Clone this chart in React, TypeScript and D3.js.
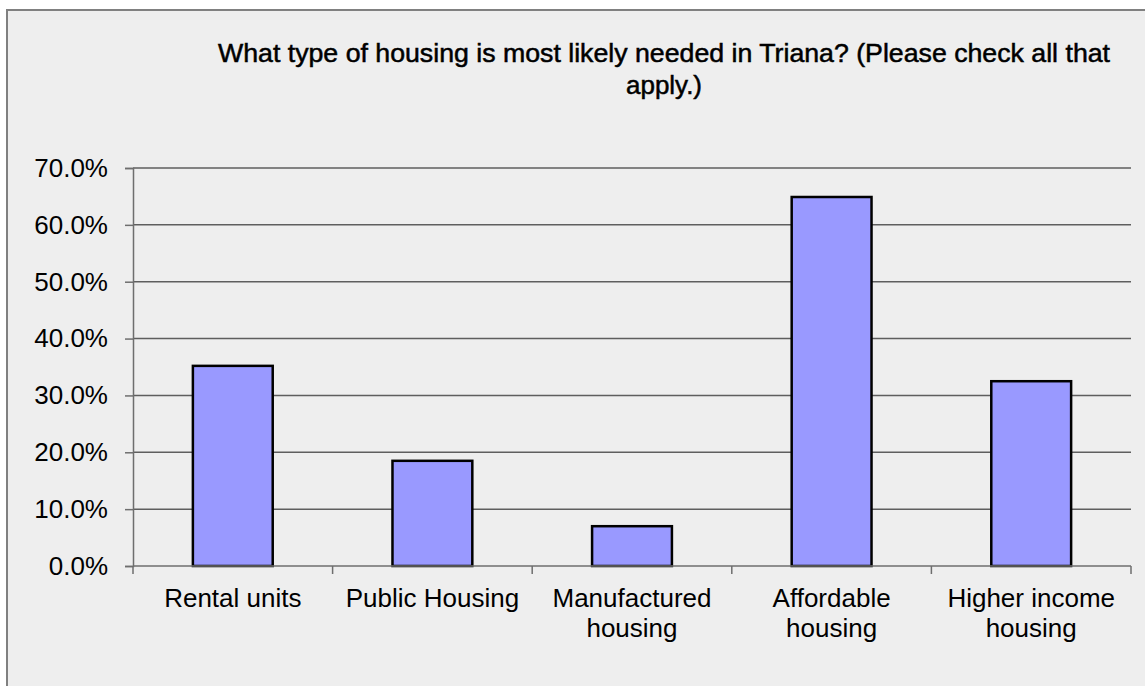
import { useRef, useEffect } from "react";
import * as d3 from "d3";

const categories = [
  ["Rental units"],
  ["Public Housing"],
  ["Manufactured", "housing"],
  ["Affordable", "housing"],
  ["Higher income", "housing"],
];
const values = [35.2, 18.5, 7.0, 64.9, 32.5];
const yTicks = [0, 10, 20, 30, 40, 50, 60, 70];
const titleLines = [
  "What type of housing is most likely needed in Triana? (Please check all that",
  "apply.)",
];

const W = 1145;
const H = 686;

const App = () => {
  const svgRef = useRef<SVGSVGElement | null>(null);

  useEffect(() => {
    if (!svgRef.current) return;
    const svg = d3.select(svgRef.current);
    svg.selectAll("*").remove();

    const margin = { top: 168, right: 14, bottom: 120, left: 133 };
    const innerWidth = W - margin.left - margin.right;
    const innerHeight = H - margin.top - margin.bottom;

    // chart area frame
    svg
      .append("rect")
      .attr("x", 7)
      .attr("y", 10)
      .attr("width", W + 10)
      .attr("height", H + 10)
      .attr("fill", "#eeeeee")
      .attr("stroke", "#808080")
      .attr("stroke-width", 2);

    const font = "'Liberation Sans', Arial, sans-serif";

    svg
      .append("g")
      .selectAll("text")
      .data(titleLines)
      .join("text")
      .attr("x", 664)
      .attr("y", (_, i) => 62 + i * 32)
      .attr("text-anchor", "middle")
      .attr("font-family", font)
      .attr("font-size", 25)
      .attr("stroke", "#000")
      .attr("stroke-width", 0.5)
      .attr("fill", "#000")
      .attr("textLength", (_, i) => (i === 0 ? 892 : 76))
      .attr("lengthAdjust", "spacingAndGlyphs")
      .text((d) => d);

    const x = d3
      .scaleBand<number>()
      .domain(d3.range(categories.length))
      .range([0, innerWidth])
      .paddingInner(0.6)
      .paddingOuter(0.3);

    const y = d3.scaleLinear().domain([0, 70]).range([innerHeight, 0]);

    const g = svg
      .append("g")
      .attr("transform", `translate(${margin.left},${margin.top})`);

    // gridlines
    g.append("g")
      .selectAll("line")
      .data(yTicks.slice(1))
      .join("line")
      .attr("x1", 0)
      .attr("x2", innerWidth)
      .attr("y1", (d) => y(d))
      .attr("y2", (d) => y(d))
      .attr("stroke", "#5e5e5e")
      .attr("stroke-width", 1.5);

    // y axis
    const yAxis = g
      .append("g")
      .call(
        d3
          .axisLeft(y)
          .tickValues(yTicks)
          .tickSize(8)
          .tickPadding(17)
          .tickFormat((d) => `${(+d).toFixed(1)}%`)
      );
    yAxis.select(".domain").attr("stroke", "#6e6e6e").attr("stroke-width", 1.5);
    yAxis.selectAll(".tick line").attr("stroke", "#6e6e6e").attr("stroke-width", 1.5);
    yAxis
      .selectAll(".tick text")
      .attr("font-family", font)
      .attr("font-size", 26)
      .attr("fill", "#000");

    // bars
    g.append("g")
      .selectAll("rect")
      .data(values)
      .join("rect")
      .attr("x", (_, i) => x(i)!)
      .attr("y", (d) => y(d))
      .attr("width", x.bandwidth())
      .attr("height", (d) => innerHeight - y(d))
      .attr("fill", "#9999ff")
      .attr("stroke", "#000")
      .attr("stroke-width", 2.5);

    // x axis
    const step = innerWidth / categories.length;
    const xg = g.append("g").attr("transform", `translate(0,${innerHeight})`);
    xg.append("line")
      .attr("x1", 0)
      .attr("x2", innerWidth)
      .attr("stroke", "#6e6e6e")
      .attr("stroke-width", 1.5);
    xg.selectAll("line.tk")
      .data(d3.range(categories.length + 1))
      .join("line")
      .attr("class", "tk")
      .attr("x1", (d) => d * step)
      .attr("x2", (d) => d * step)
      .attr("y1", 0)
      .attr("y2", 8)
      .attr("stroke", "#6e6e6e")
      .attr("stroke-width", 1.5);

    xg.selectAll("text.lbl")
      .data(categories)
      .join("text")
      .attr("class", "lbl")
      .attr("text-anchor", "middle")
      .attr("font-family", font)
      .attr("font-size", 26)
      .attr("fill", "#000")
      .each(function (d, i) {
        d3.select(this)
          .selectAll("tspan")
          .data(d)
          .join("tspan")
          .attr("x", x(i)! + x.bandwidth() / 2)
          .attr("y", (_, j) => 41 + j * 30)
          .text((t) => t);
      });
  }, []);

  return (
    <svg
      ref={svgRef}
      width={W}
      height={H}
      style={{ position: "absolute", left: 0, top: 0, background: "#fff" }}
    ></svg>
  );
};

export default App;
